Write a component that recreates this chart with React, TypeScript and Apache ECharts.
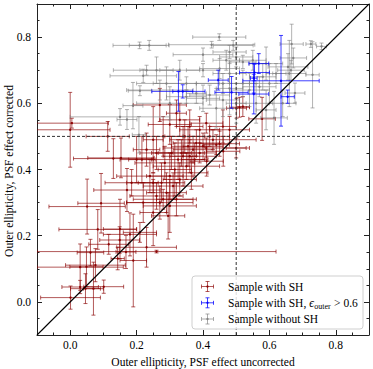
import React, { useEffect, useRef } from 'react';
import * as echarts from 'echarts';

const AXIS_MIN = -0.1;
const AXIS_MAX = 0.9;
const majorTicks = [0, 0.2, 0.4, 0.6, 0.8];
const minorTicks = [-0.05, 0.05, 0.1, 0.15, 0.25, 0.3, 0.35, 0.45, 0.5, 0.55, 0.65, 0.7, 0.75, 0.85];

const xTitle = 'Outer ellipticity, PSF effect uncorrected';
const yTitle = 'Outer ellipticity, PSF effect corrected';
const legendNames = ['Sample with SH', 'Sample with SH, ', 'Sample without SH'];

// [x, y, xerr, yerr]
const redPoints = [
  [0.001, 0.013, 0.09, 0.035],
  [0.030, 0.045, 0.055, 0.02],
  [0.046, 0.040, 0.045, 0.045],
  [0.070, 0.040, 0.03, 0.08],
  [0.101, 0.046, 0.06, 0.02],
  [0.030, 0.105, 0.13, 0.07],
  [0.049, 0.106, 0.05, 0.06],
  [0.076, 0.111, 0.09, 0.05],
  [0.061, 0.149, 0.04, 0.04],
  [0.260, 0.152, 0.36, 0.004],
  [0.143, 0.131, 0.02, 0.034],
  [0.190, 0.125, 0.04, 0.14],
  [0.149, 0.187, 0.06, 0.04],
  [0.180, 0.204, 0.08, 0.065],
  [0.168, 0.151, 0.03, 0.05],
  [0.116, 0.174, 0.06, 0.03],
  [0.230, 0.165, 0.09, 0.06],
  [0.083, 0.219, 0.117, 0.06],
  [0.150, 0.220, 0.05, 0.09],
  [0.210, 0.210, 0.05, 0.03],
  [0.051, 0.288, 0.115, 0.083],
  [0.093, 0.298, 0.07, 0.09],
  [0.171, 0.338, 0.10, 0.065],
  [0.185, 0.360, 0.08, 0.04],
  [0.240, 0.380, 0.10, 0.05],
  [0.130, 0.433, 0.12, 0.06],
  [0.153, 0.435, 0.10, 0.06],
  [0.113, 0.500, 0.065, 0.045],
  [0.005, 0.540, 0.11, 0.015],
  [0.000, 0.520, 0.12, 0.113],
  [0.216, 0.430, 0.04, 0.07],
  [0.230, 0.460, 0.04, 0.05],
  [0.220, 0.300, 0.05, 0.06],
  [0.250, 0.270, 0.04, 0.10],
  [0.260, 0.320, 0.08, 0.04],
  [0.270, 0.300, 0.10, 0.05],
  [0.275, 0.360, 0.07, 0.06],
  [0.280, 0.310, 0.09, 0.03],
  [0.285, 0.420, 0.09, 0.05],
  [0.290, 0.330, 0.06, 0.06],
  [0.295, 0.260, 0.05, 0.07],
  [0.300, 0.380, 0.07, 0.07],
  [0.300, 0.290, 0.08, 0.08],
  [0.305, 0.450, 0.06, 0.05],
  [0.310, 0.350, 0.09, 0.04],
  [0.315, 0.400, 0.05, 0.08],
  [0.320, 0.310, 0.06, 0.05],
  [0.325, 0.430, 0.08, 0.06],
  [0.330, 0.370, 0.05, 0.05],
  [0.335, 0.450, 0.07, 0.04],
  [0.340, 0.440, 0.04, 0.09],
  [0.345, 0.500, 0.06, 0.05],
  [0.350, 0.410, 0.10, 0.04],
  [0.355, 0.470, 0.05, 0.06],
  [0.360, 0.440, 0.08, 0.05],
  [0.365, 0.390, 0.05, 0.05],
  [0.370, 0.460, 0.06, 0.04],
  [0.375, 0.430, 0.04, 0.05],
  [0.380, 0.480, 0.07, 0.04],
  [0.390, 0.450, 0.05, 0.03],
  [0.400, 0.470, 0.06, 0.04],
  [0.411, 0.425, 0.05, 0.045],
  [0.420, 0.500, 0.06, 0.03],
  [0.430, 0.490, 0.13, 0.03],
  [0.440, 0.475, 0.04, 0.03],
  [0.450, 0.478, 0.06, 0.038],
  [0.461, 0.455, 0.05, 0.045],
  [0.410, 0.465, 0.13, 0.03],
  [0.480, 0.520, 0.06, 0.04],
  [0.500, 0.465, 0.03, 0.03],
  [0.460, 0.530, 0.04, 0.05],
  [0.330, 0.550, 0.06, 0.05],
  [0.300, 0.536, 0.065, 0.06],
  [0.270, 0.595, 0.08, 0.05],
  [0.320, 0.570, 0.03, 0.04],
  [0.280, 0.500, 0.06, 0.06],
  [0.260, 0.450, 0.05, 0.05],
  [0.250, 0.360, 0.08, 0.03],
  [0.501, 0.585, 0.03, 0.03],
  [0.510, 0.588, 0.03, 0.03],
  [0.520, 0.590, 0.02, 0.03],
  [0.578, 0.553, 0.04, 0.065],
  [0.390, 0.520, 0.06, 0.04],
  [0.410, 0.540, 0.05, 0.03],
  [0.360, 0.530, 0.04, 0.05],
  [0.200, 0.430, 0.05, 0.07],
  [0.250, 0.490, 0.03, 0.10],
];

const bluePoints = [
  [0.326, 0.636, 0.08, 0.06],
  [0.339, 0.636, 0.03, 0.02],
  [0.446, 0.670, 0.03, 0.03],
  [0.486, 0.633, 0.05, 0.048],
  [0.555, 0.693, 0.045, 0.025],
  [0.568, 0.720, 0.03, 0.03],
  [0.553, 0.676, 0.01, 0.045],
  [0.553, 0.628, 0.045, 0.06],
  [0.635, 0.668, 0.115, 0.137],
  [0.655, 0.620, 0.02, 0.02],
];

const grayPoints = [
  [0.449, 0.800, 0.08, 0.01],
  [0.426, 0.777, 0.13, 0.01],
  [0.491, 0.775, 0.06, 0.015],
  [0.209, 0.775, 0.08, 0.01],
  [0.238, 0.775, 0.06, 0.015],
  [0.400, 0.747, 0.09, 0.02],
  [0.480, 0.755, 0.05, 0.02],
  [0.500, 0.740, 0.05, 0.03],
  [0.520, 0.725, 0.04, 0.02],
  [0.230, 0.700, 0.10, 0.015],
  [0.220, 0.683, 0.10, 0.02],
  [0.400, 0.700, 0.05, 0.02],
  [0.450, 0.705, 0.06, 0.03],
  [0.470, 0.730, 0.04, 0.03],
  [0.480, 0.690, 0.05, 0.03],
  [0.290, 0.660, 0.09, 0.05],
  [0.270, 0.640, 0.10, 0.03],
  [0.210, 0.638, 0.035, 0.015],
  [0.300, 0.600, 0.10, 0.05],
  [0.350, 0.620, 0.06, 0.02],
  [0.380, 0.630, 0.03, 0.03],
  [0.400, 0.615, 0.05, 0.04],
  [0.420, 0.625, 0.06, 0.03],
  [0.440, 0.585, 0.05, 0.06],
  [0.460, 0.610, 0.05, 0.05],
  [0.150, 0.559, 0.15, 0.025],
  [0.171, 0.551, 0.03, 0.03],
  [0.189, 0.593, 0.03, 0.07],
  [0.207, 0.505, 0.02, 0.055],
  [0.667, 0.779, 0.035, 0.06],
  [0.672, 0.737, 0.04, 0.03],
  [0.725, 0.779, 0.015, 0.01],
  [0.757, 0.772, 0.015, 0.01],
  [0.656, 0.710, 0.06, 0.04],
  [0.660, 0.690, 0.05, 0.10],
  [0.665, 0.700, 0.04, 0.03],
  [0.730, 0.686, 0.02, 0.10],
  [0.677, 0.631, 0.03, 0.03],
  [0.614, 0.556, 0.04, 0.08],
  [0.590, 0.720, 0.05, 0.05],
  [0.580, 0.680, 0.04, 0.04],
  [0.600, 0.660, 0.06, 0.06],
  [0.620, 0.690, 0.03, 0.03],
  [0.570, 0.650, 0.05, 0.03],
  [0.520, 0.660, 0.04, 0.04],
  [0.540, 0.640, 0.06, 0.05],
  [0.500, 0.600, 0.03, 0.06],
  [0.560, 0.600, 0.05, 0.06],
  [0.460, 0.660, 0.08, 0.03],
  [0.350, 0.660, 0.10, 0.02],
  [0.330, 0.700, 0.06, 0.03],
  [0.260, 0.700, 0.05, 0.04],
  [0.640, 0.600, 0.04, 0.04],
  [0.590, 0.580, 0.03, 0.06],
  [0.550, 0.730, 0.04, 0.03],
  [0.480, 0.645, 0.04, 0.08],
];

const diagonalLine = [[-0.1, -0.1], [0.9, 0.9]];
const vDashLine = [[0.5, -0.1], [0.5, 0.9]];
const hDashLine = [[-0.1, 0.5], [0.9, 0.5]];

const FONT = '"Liberation Serif", "DejaVu Serif", serif';
const RED = '#8b0000';
const BLUE = '#0000ff';
const GRAY = '#808080';

function makeRender(color: string, barOpacity: number) {
  return (_params: any, api: any) => {
    const x = api.value(0);
    const y = api.value(1);
    const ex = api.value(2);
    const ey = api.value(3);
    const c = api.coord([x, y]);
    const l = api.coord([x - ex, y]);
    const r = api.coord([x + ex, y]);
    const t = api.coord([x, y + ey]);
    const b = api.coord([x, y - ey]);
    const cap = 2;
    const ls = { stroke: color, lineWidth: 1, opacity: barOpacity };
    return {
      type: 'group',
      children: [
        { type: 'line', shape: { x1: l[0], y1: c[1], x2: r[0], y2: c[1] }, style: ls },
        { type: 'line', shape: { x1: c[0], y1: t[1], x2: c[0], y2: b[1] }, style: ls },
        { type: 'line', shape: { x1: l[0], y1: c[1] - cap, x2: l[0], y2: c[1] + cap }, style: ls },
        { type: 'line', shape: { x1: r[0], y1: c[1] - cap, x2: r[0], y2: c[1] + cap }, style: ls },
        { type: 'line', shape: { x1: c[0] - cap, y1: t[1], x2: c[0] + cap, y2: t[1] }, style: ls },
        { type: 'line', shape: { x1: c[0] - cap, y1: b[1], x2: c[0] + cap, y2: b[1] }, style: ls },
        { type: 'circle', shape: { cx: c[0], cy: c[1], r: 1.2 }, style: { fill: color, opacity: 0.95 } },
      ],
    };
  };
}

function legendIcon(cx: number, cy: number, color: string, op: number) {
  const ls = { stroke: color, lineWidth: 1, opacity: op };
  const hw = 6, hh = 5, cap = 2;
  return [
    { type: 'line', z: 101, shape: { x1: cx - hw, y1: cy, x2: cx + hw, y2: cy }, style: ls },
    { type: 'line', z: 101, shape: { x1: cx, y1: cy - hh, x2: cx, y2: cy + hh }, style: ls },
    { type: 'line', z: 101, shape: { x1: cx - hw, y1: cy - cap, x2: cx - hw, y2: cy + cap }, style: ls },
    { type: 'line', z: 101, shape: { x1: cx + hw, y1: cy - cap, x2: cx + hw, y2: cy + cap }, style: ls },
    { type: 'line', z: 101, shape: { x1: cx - cap, y1: cy - hh, x2: cx + cap, y2: cy - hh }, style: ls },
    { type: 'line', z: 101, shape: { x1: cx - cap, y1: cy + hh, x2: cx + cap, y2: cy + hh }, style: ls },
    { type: 'circle', z: 101, shape: { cx, cy, r: 1.2 }, style: { fill: color, opacity: 0.95 } },
  ];
}

function measure(text: string, font: string): number {
  const c = document.createElement('canvas').getContext('2d');
  if (!c) return text.length * 5.5;
  c.font = font;
  return c.measureText(text).width;
}

export default function App() {
  const ref = useRef<HTMLDivElement>(null);
  useEffect(() => {
    if (!ref.current) return;
    const chart = echarts.init(ref.current, undefined, { renderer: 'svg' });

    const axisColor = '#222';
    const mkX = (position: string, ticks: number[], len: number, main: boolean, showLine: boolean) => ({
      type: 'value', min: AXIS_MIN, max: AXIS_MAX, position,
      axisLine: { show: showLine, onZero: false, lineStyle: { color: axisColor, width: 1 } },
      axisTick: { show: true, inside: true, length: len, customValues: ticks, lineStyle: { color: axisColor, width: 1 } },
      axisLabel: main
        ? { show: true, customValues: majorTicks, formatter: (v: number) => v.toFixed(1), fontSize: 11.5, fontFamily: FONT, color: '#000', margin: 4 }
        : { show: false },
      splitLine: { show: false },
      ...(main ? { name: xTitle, nameLocation: 'middle', nameGap: 17, nameTextStyle: { fontSize: 11.5, fontFamily: FONT, color: '#000' } } : {}),
    });
    const mkY = (position: string, ticks: number[], len: number, main: boolean, showLine: boolean) => ({
      type: 'value', min: AXIS_MIN, max: AXIS_MAX, position,
      axisLine: { show: showLine, onZero: false, lineStyle: { color: axisColor, width: 1 } },
      axisTick: { show: true, inside: true, length: len, customValues: ticks, lineStyle: { color: axisColor, width: 1 } },
      axisLabel: main
        ? { show: true, customValues: majorTicks, formatter: (v: number) => v.toFixed(1), fontSize: 11.5, fontFamily: FONT, color: '#000', margin: 6 }
        : { show: false },
      splitLine: { show: false },
    });

    const lgX = 192, lgY = 276, lgW = 171, lgH = 53;
    const rows = [286.5, 302.8, 319];
    const iconX = 207.5;
    const textX = 228;
    const fontStr = `11.5px ${FONT}`;
    const w1 = measure(legendNames[1], fontStr);
    const wE = measure('ϵ', `italic 11.5px ${FONT}`);
    const wS = measure('outer', `8px ${FONT}`);

    const txt = (x: number, y: number, text: string, size = 11.5, italic = false) => ({
      type: 'text', z: 102, x, y,
      style: { text, fontSize: size, fontFamily: FONT, fontStyle: italic ? 'italic' : 'normal', fill: '#000', align: 'left', verticalAlign: 'middle' },
    });

    const graphic: any[] = [
      {
        type: 'text', z: 102, x: 9, y: 171, rotation: Math.PI / 2,
        style: { text: yTitle, fontSize: 11.5, fontFamily: FONT, fill: '#000', align: 'center', verticalAlign: 'middle' },
      },
      { type: 'rect', z: 100, shape: { x: lgX, y: lgY, width: lgW, height: lgH, r: 3 }, style: { fill: 'rgba(255,255,255,0.82)', stroke: '#cfcfcf', lineWidth: 1 } },
      ...legendIcon(iconX, rows[0], RED, 0.65),
      ...legendIcon(iconX, rows[1], BLUE, 0.75),
      ...legendIcon(iconX, rows[2], GRAY, 0.65),
      txt(textX, rows[0], legendNames[0]),
      txt(textX, rows[1], legendNames[1]),
      txt(textX + w1, rows[1], 'ϵ', 11.5, true),
      txt(textX + w1 + wE + 0.5, rows[1] + 3.5, 'outer', 8),
      txt(textX + w1 + wE + wS + 1, rows[1], ' > 0.6'),
      txt(textX, rows[2], legendNames[2]),
    ];

    const option: any = {
      animation: false,
      backgroundColor: '#fff',
      grid: { left: 37, top: 4, width: 332, height: 331, outerBoundsMode: 'none', containLabel: false },
      xAxis: [
        mkX('bottom', majorTicks, 5, true, true),
        mkX('bottom', minorTicks, 2.5, false, false),
        mkX('top', majorTicks, 5, false, true),
        mkX('top', minorTicks, 2.5, false, false),
      ],
      yAxis: [
        mkY('left', majorTicks, 5, true, true),
        mkY('left', minorTicks, 2.5, false, false),
        mkY('right', majorTicks, 5, false, true),
        mkY('right', minorTicks, 2.5, false, false),
      ],
      series: [
        { type: 'custom', name: legendNames[0], clip: true, renderItem: makeRender(RED, 0.65), data: redPoints, z: 2 },
        { type: 'custom', name: legendNames[2], clip: true, renderItem: makeRender(GRAY, 0.6), data: grayPoints, z: 3 },
        { type: 'custom', name: legendNames[1], clip: true, renderItem: makeRender(BLUE, 0.75), data: bluePoints, z: 4 },
        { type: 'line', data: diagonalLine, symbol: 'none', z: 5, lineStyle: { color: '#000', width: 1.1 }, silent: true },
        { type: 'line', data: vDashLine, symbol: 'none', z: 5, lineStyle: { color: '#333', width: 1, type: [3, 2] }, silent: true },
        { type: 'line', data: hDashLine, symbol: 'none', z: 5, lineStyle: { color: '#333', width: 1, type: [3, 2] }, silent: true },
      ],
      graphic,
    };
    chart.setOption(option);
    return () => chart.dispose();
  }, []);
  return <div ref={ref} style={{ position: 'fixed', left: 0, top: 0, width: 373, height: 369 }} />;
}
